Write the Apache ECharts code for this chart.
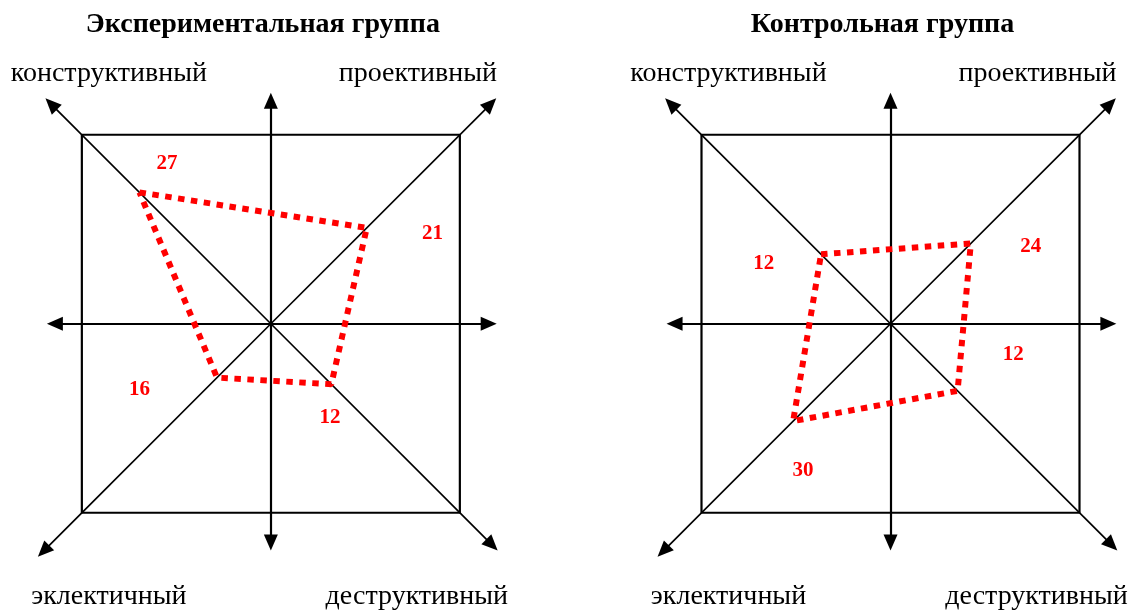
<!DOCTYPE html>
<html>
<head>
<meta charset="utf-8">
<script src="https://cdn.jsdelivr.net/npm/echarts@6/dist/echarts.min.js"></script>
<style>
html,body{margin:0;padding:0;background:#fff;}
#chart{width:1140px;height:613px;}
</style>
</head>
<body>
<div id="chart"></div>
<script>
// ---------- data ----------
const panelTitles = ['Экспериментальная группа', 'Контрольная группа'];
const categories = ['конструктивный', 'проективный', 'деструктивный', 'эклектичный'];
// printed values of each group, per category
const expValues = [27, 21, 12, 16];
const ctrlValues = [12, 24, 12, 30];
// where each vertex is drawn on its diagonal (axis units, square half-side = 40)
const expPlotted = [27.8, 20.3, 12.8, 11.4];
const ctrlPlotted = [14.7, 17.0, 14.2, 20.6];

// ---------- layout ----------
const DIRS = [[-1, 1], [1, 1], [1, -1], [-1, -1]];   // UL, UR, LR, LL
const UNIT = 4.725;                 // px per axis unit
const HALF = 40;                    // square half side
const RANGE = 50;
const centers = [[270.85, 323.75], [890.5, 323.75]];
const valueLabelPos = [
  [[-22.0, 34.0], [34.2, 19.1], [12.5, -19.8], [-27.8, -13.9]],
  [[-26.8, 12.7], [29.7, 16.3], [26.0, -6.6], [-18.5, -31.1]]
];
const catLabelOffset = [[-162, -250], [147, -250], [146, 273], [-162, 273]];
const ARROW_H = 16, ARROW_W = 14;
const back = ARROW_H / 2 / UNIT;
const backDiag = ARROW_H / 2 / Math.SQRT2 / UNIT;
const diagTips = [47.7, 47.7, 48.0, 49.3];
const axisTips = { right: 47.8, left: 47.4, up: 48.9, down: 48.0 };

const chart = echarts.init(document.getElementById('chart'), null, { renderer: 'canvas' });

const grids = [], xAxes = [], yAxes = [], series = [], graphics = [];
const allValues = [expValues, ctrlValues];
const allPlotted = [expPlotted, ctrlPlotted];

centers.forEach((c, p) => {
  grids.push({
    left: c[0] - RANGE * UNIT, top: c[1] - RANGE * UNIT,
    width: 2 * RANGE * UNIT, height: 2 * RANGE * UNIT, containLabel: false
  });
  xAxes.push({ type: 'value', gridIndex: p, min: -RANGE, max: RANGE, show: false });
  yAxes.push({ type: 'value', gridIndex: p, min: -RANGE, max: RANGE, show: false });

  const axisStyle = { color: '#000', width: 2.2, type: 'solid' };
  const diagStyle = { color: '#000', width: 1.7, type: 'solid' };
  const seg = (x, y, st) => [
    { coord: [0, 0], symbol: 'none', lineStyle: st },
    { coord: [x, y], symbol: 'triangle', lineStyle: st }
  ];
  const mlData = [
    seg(axisTips.right - back, 0, axisStyle),
    seg(-(axisTips.left - back), 0, axisStyle),
    seg(0, axisTips.up - back, axisStyle),
    seg(0, -(axisTips.down - back), axisStyle)
  ];
  DIRS.forEach((d, i) => {
    const t = diagTips[i] - backDiag;
    mlData.push(seg(d[0] * t, d[1] * t, diagStyle));
  });

  // frame square + axes/diagonals
  series.push({
    type: 'line', xAxisIndex: p, yAxisIndex: p, z: 1, silent: true,
    symbol: 'none',
    data: [[-HALF, HALF], [HALF, HALF], [HALF, -HALF], [-HALF, -HALF], [-HALF, HALF]],
    lineStyle: { color: '#000', width: 2.2 },
    markLine: {
      silent: true, z: 1, animation: false,
      symbolSize: [ARROW_W, ARROW_H],
      label: { show: false },
      emphasis: { disabled: true },
      itemStyle: { color: '#000' },
      data: mlData
    }
  });

  // red dotted profile
  const pts = allPlotted[p].map((r, i) => [DIRS[i][0] * r, DIRS[i][1] * r]);
  pts.push(pts[0]);
  series.push({
    type: 'line', xAxisIndex: p, yAxisIndex: p, z: 3, silent: true,
    symbol: 'none',
    data: pts,
    lineStyle: { color: '#ff0000', width: 6, type: [6.5, 6.5], cap: 'butt' }
  });

  // value labels
  series.push({
    type: 'scatter', xAxisIndex: p, yAxisIndex: p, z: 4, silent: true,
    symbolSize: 0,
    itemStyle: { opacity: 1 },
    data: allValues[p].map((v, i) => ({ value: valueLabelPos[p][i], name: String(v) })),
    label: {
      show: true, position: 'inside', formatter: '{b}',
      color: '#ff0000', fontFamily: 'Liberation Serif', fontWeight: 'bold', fontSize: 21
    }
  });

  // titles & category labels
  graphics.push({
    type: 'text', x: c[0] - 8, y: 25,
    style: {
      text: panelTitles[p], fill: '#000', font: 'bold 28px "Liberation Serif"',
      textAlign: 'center', textVerticalAlign: 'middle'
    }
  });
  categories.forEach((name, i) => {
    graphics.push({
      type: 'text', x: c[0] + catLabelOffset[i][0], y: c[1] + catLabelOffset[i][1],
      style: {
        text: name, fill: '#000', font: '28px "Liberation Serif"',
        textAlign: 'center', textVerticalAlign: 'middle'
      }
    });
  });
});

chart.setOption({
  backgroundColor: '#fff',
  animation: false,
  grid: grids,
  xAxis: xAxes,
  yAxis: yAxes,
  series: series,
  graphic: graphics
});
</script>
</body>
</html>
